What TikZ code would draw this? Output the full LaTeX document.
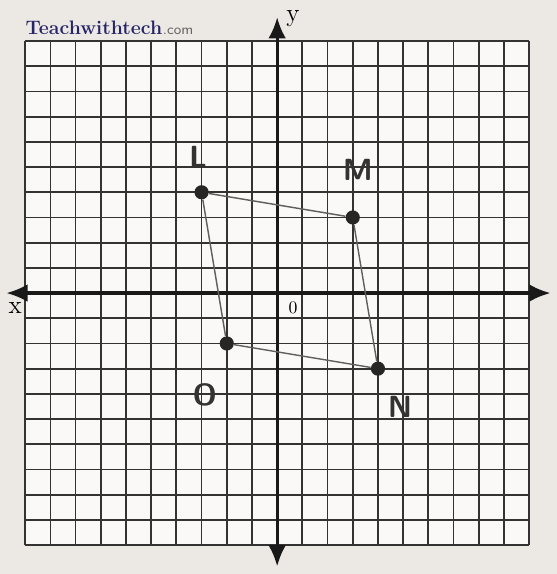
\documentclass[tikz,border=0pt]{standalone}
\usetikzlibrary{positioning, arrows.meta}
\definecolor{paper}{RGB}{236,233,229}
\definecolor{sheet}{RGB}{250,249,247}
\definecolor{brandblue}{RGB}{38,36,102}
\definecolor{edgegray}{RGB}{95,95,95}

\begin{document}
\begin{tikzpicture}[x=0.5cm, y=0.5cm,
  gridline/.style={line width=1pt, draw=black!80},
  axis/.style={line width=1.8pt, draw=black!90,
               {Latex[length=12pt, width=10pt]}-{Latex[length=12pt, width=10pt]}},
  vertex/.style={circle, fill=black!85, inner sep=0pt, minimum size=8pt},
  side/.style={line width=0.8pt, draw=edgegray},
  hand/.style={font=\sffamily\bfseries\LARGE, text=black!80, inner sep=1pt},
  axlbl/.style={font=\Large, inner sep=0pt},
]

% Paper and bounding box
\fill[paper] (-11.0,-11.15) rectangle (11.1,11.63);
\useasboundingbox (-11.0,-11.15) rectangle (11.1,11.63);

% Grid
\fill[sheet] (-10,-10) rectangle (10,10);
\draw[gridline, step=0.5cm] (-10,-10) grid (10,10);

% Axes
\coordinate (xleft) at (-10.75,0);
\coordinate (xright) at (10.85,0);
\coordinate (ybot) at (0,-10.85);
\coordinate (ytop) at (0,10.95);
\draw[axis] (xleft) -- (xright);
\draw[axis] (ybot) -- (ytop);

\node[axlbl] (ylbl) at (0.63,10.9) {y};
\node[axlbl] (xlbl) at (-10.4,-0.6) {x};
\node[font=\normalsize, inner sep=0pt] (orig) at (0.63,-0.6) {0};

% Brand
\node[anchor=base west, inner sep=0pt, text=brandblue, font=\fontsize{11}{13}\selectfont\bfseries]
  (brand) at (-10,10.25) {Teachwithtech};
\node[inner sep=0pt, right=0pt of brand.base east, anchor=base west,
      text=black!60, font=\sffamily\footnotesize] (dotcom) {.com};

% Vertices
\node[vertex] (pL) at (-3,4) {};
\node[vertex] (pM) at (3,3) {};
\node[vertex] (pN) at (4,-3) {};
\node[vertex] (pO) at (-2,-2) {};

% Sides
\draw[side] (pL) -- (pM);
\draw[side] (pM) -- (pN);
\draw[side] (pN) -- (pO);
\draw[side] (pO) -- (pL);

% Vertex letters
\node[hand, above=0.3cm of pL, xshift=-0.07cm] (lblL) {L};
\node[hand, above=0.55cm of pM, xshift=0.1cm] (lblM) {M};
\node[hand, below right=0.4cm and 0.05cm of pN] (lblN) {N};
\node[hand, below left=0.65cm and 0.05cm of pO] (lblO) {O};

\end{tikzpicture}
\end{document}
